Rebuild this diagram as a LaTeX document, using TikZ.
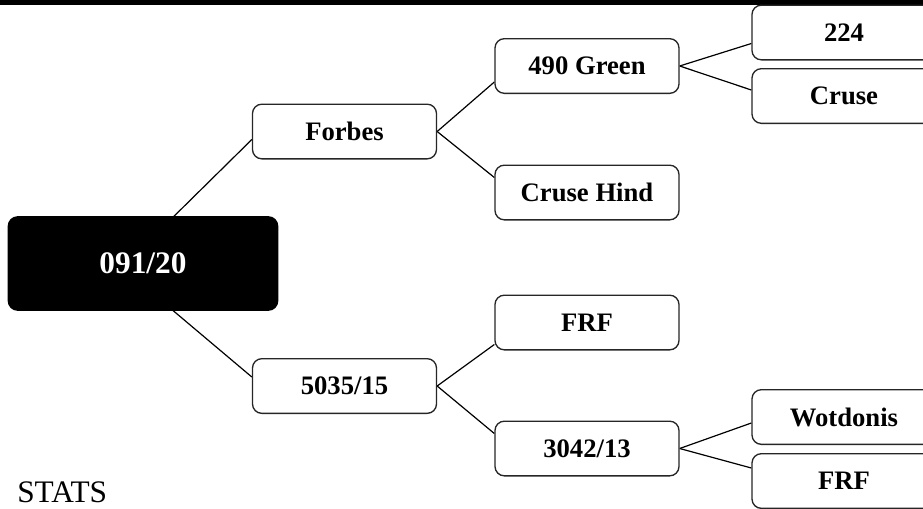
\documentclass[tikz,border=0pt]{standalone}
\usepackage{fontspec}
\setmainfont{Liberation Serif}
\usetikzlibrary{backgrounds}

\tikzset{
  box/.style={draw=black!85, line width=1pt, rounded corners=7pt, fill=white,
    minimum width=138pt, minimum height=41pt, inner sep=0pt,
    font=\bfseries\fontsize{20}{24}\selectfont},
  rootbox/.style={box, fill=black, draw=black, text=white,
    minimum width=202pt, minimum height=70pt,
    font=\bfseries\fontsize{23.5}{28}\selectfont},
  link/.style={line width=0.9pt}
}

\begin{document}
\begin{tikzpicture}[x=0.75pt,y=-0.75pt]
    % Frame of the picture
    \useasboundingbox (0,0) rectangle (923,508);
    \clip (0,0) rectangle (923,508);
    \fill[black] (0,0) rectangle (923,5);

    % Root and first level
    \node[rootbox] (Root) at (143,263.5) {091/20};
    \node[box] (Forbes) at (344.5,131.5) {Forbes};
    \node[box] (Lot) at (344.5,386) {5035/15};

    % Second level
    \node[box] (Green) at (587,66) {490 Green};
    \node[box] (Hind) at (587,192.5) {Cruse Hind};
    \node[box] (FrfA) at (587,322.5) {FRF};
    \node[box] (Sub) at (587,448.5) {3042/13};

    % Third level, cut at the right edge
    \node[box] (Num) at (844,32.5) {224};
    \node[box] (Cruse) at (844,96) {Cruse};
    \node[box] (Wot) at (844,417) {Wotdonis};
    \node[box] (FrfB) at (844,481) {FRF};

    \node[anchor=base west, inner sep=0pt, font=\fontsize{23.5}{28}\selectfont] (Stats) at (17,502) {STATS};

    % Connectors
    \begin{scope}[on background layer]
    \coordinate (Hub) at ([shift={(-21,4)}]Root.center);
    \foreach \from/\to/\dy in {Hub/Forbes/8, Hub/Lot/-9, Forbes.east/Green/16, Forbes.east/Hind/-15,
        Lot.east/FrfA/22, Lot.east/Sub/-15, Green.east/Num/11, Green.east/Cruse/-6,
        Sub.east/Wot/6, Sub.east/FrfB/-13}
        \draw[link] (\from) -- ([shift={(0,\dy)}]\to.west);
    \end{scope}
\end{tikzpicture}
\end{document}
